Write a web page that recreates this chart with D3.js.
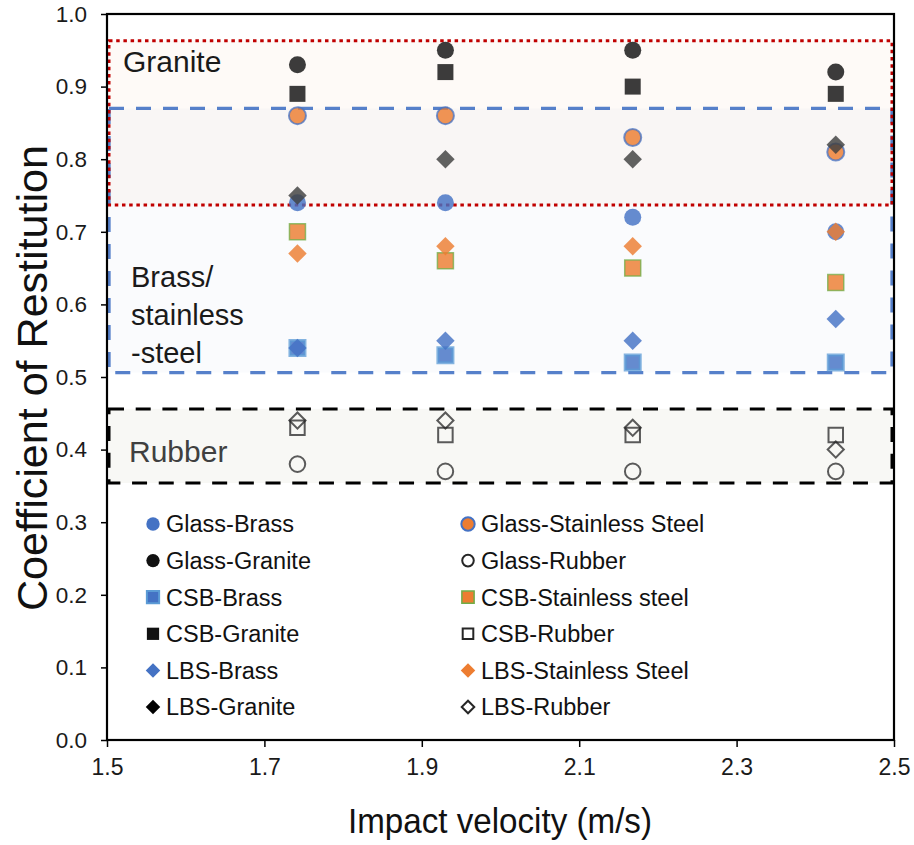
<!DOCTYPE html>
<html>
<head>
<meta charset="utf-8">
<script src="https://cdn.jsdelivr.net/npm/d3@7"></script>
<style>
  html, body { margin: 0; padding: 0; background: #fff; }
  svg { display: block; font-family: "Liberation Sans", Arial, sans-serif; }
</style>
</head>
<body>
<svg id="chart" width="914" height="845"></svg>
<script>
// ---------------- data ----------------
const velocities = [1.742, 1.93, 2.168, 2.426];
const xTicks = [1.5, 1.7, 1.9, 2.1, 2.3, 2.5];
const yTicks = [0.0, 0.1, 0.2, 0.3, 0.4, 0.5, 0.6, 0.7, 0.8, 0.9, 1.0];

const seriesNames = [
  "Glass-Brass", "Glass-Stainless Steel",
  "Glass-Granite", "Glass-Rubber",
  "CSB-Brass", "CSB-Stainless steel",
  "CSB-Granite", "CSB-Rubber",
  "LBS-Brass", "LBS-Stainless Steel",
  "LBS-Granite", "LBS-Rubber"
];
const glassBrass      = [0.74, 0.74, 0.72, 0.70];
const glassStainless  = [0.86, 0.86, 0.83, 0.81];
const glassGranite    = [0.93, 0.95, 0.95, 0.92];
const glassRubber     = [0.38, 0.37, 0.37, 0.37];
const csbBrass        = [0.54, 0.53, 0.52, 0.52];
const csbStainless    = [0.70, 0.66, 0.65, 0.63];
const csbGranite      = [0.89, 0.92, 0.90, 0.89];
const csbRubber       = [0.43, 0.42, 0.42, 0.42];
const lbsBrass        = [0.54, 0.55, 0.55, 0.58];
const lbsStainless    = [0.67, 0.68, 0.68, 0.70];
const lbsGranite      = [0.75, 0.80, 0.80, 0.82];
const lbsRubber       = [0.44, 0.44, 0.43, 0.40];
const seriesValues = [glassBrass, glassStainless, glassGranite, glassRubber,
  csbBrass, csbStainless, csbGranite, csbRubber,
  lbsBrass, lbsStainless, lbsGranite, lbsRubber];

// region bands [label, top, bottom]
const regionNames = ["Granite", "Brass/stainless-steel", "Rubber"];
const regionTop = [0.963, 0.870, 0.456];
const regionBottom = [0.737, 0.506, 0.354];

// ---------------- styles ----------------
const shapes = ["circle","circle","circle","circle","square","square","square","square","diamond","diamond","diamond","diamond"];
const fills = ["#4472c4","#ed7d31","#111111","none","#4472c4","#ed7d31","#111111","none","#4472c4","#ed7d31","#3f3f3f","none"];
const strokes = ["none","#4472c4","none","#262626","#5b9bd5","#70ad47","none","#262626","none","none","none","#262626"];
const strokeW = [0,2,0,2,3,1.5,0,2,0,0,0,2];

const svg = d3.select("#chart");
const x = d3.scaleLinear().domain([1.5, 2.5]).range([107, 894]);
const y = d3.scaleLinear().domain([0, 1]).range([740, 14]);

// region fills
const regionFill = ["rgba(244,170,120,0.06)", "rgba(100,140,210,0.035)", "rgba(150,160,120,0.07)"];
const regionStroke = ["#c00000", "#4472c4", "#000000"];
const regionDash = ["3.5,3.7", "15,12", "15,11.7"];
const gReg = svg.append("g");
regionNames.forEach((n, i) => {
  gReg.append("rect")
    .attr("x", x(1.5) + 2).attr("y", y(regionTop[i]))
    .attr("width", x(2.5) - x(1.5) - 4)
    .attr("height", y(regionBottom[i]) - y(regionTop[i]))
    .attr("fill", regionFill[i]);
});
[1, 2, 0].forEach(i => {
  gReg.append("rect")
    .attr("x", x(1.5) + 2).attr("y", y(regionTop[i]))
    .attr("width", x(2.5) - x(1.5) - 4)
    .attr("height", y(regionBottom[i]) - y(regionTop[i]))
    .attr("fill", "none")
    .attr("stroke", regionStroke[i])
    .attr("stroke-opacity", i === 1 ? 0.9 : 1)
    .attr("stroke-width", i === 1 ? 3.3 : 3)
    .attr("stroke-dasharray", regionDash[i]);
});

// region labels
svg.append("text").attr("x", 123).attr("y", 72).attr("font-size", 30).attr("fill", "#1a1a1a").text("Granite");
const brassLines = ["Brass/", "stainless", "-steel"];
brassLines.forEach((t, i) => {
  svg.append("text").attr("x", 131).attr("y", 287 + i * 38).attr("font-size", 29).attr("fill", "#1a1a1a").text(t);
});
svg.append("text").attr("x", 129).attr("y", 462).attr("font-size", 30).attr("fill", "#404040").text("Rubber");

// axes
const yAxis = d3.axisLeft(y).tickValues(yTicks).tickFormat(d3.format(".1f")).tickSize(6).tickPadding(14);
const gy = svg.append("g").attr("transform", `translate(${x(1.5)},0)`).call(yAxis);
gy.select(".domain").remove();
gy.selectAll("line").attr("stroke", "#000").attr("stroke-width", 1.5);
gy.selectAll("text").attr("font-size", 22.5).attr("fill", "#1a1a1a").attr("font-family", "Liberation Sans, Arial, sans-serif");

const xAxis = d3.axisBottom(x).tickValues(xTicks).tickFormat(d3.format(".1f")).tickSize(7).tickPadding(12);
const gx = svg.append("g").attr("transform", `translate(0,${y(0)})`).call(xAxis);
gx.select(".domain").remove();
gx.selectAll("line").attr("stroke", "#000").attr("stroke-width", 1.5);
gx.selectAll("text").attr("font-size", 23).attr("fill", "#1a1a1a").attr("font-family", "Liberation Sans, Arial, sans-serif");

// frame
svg.append("rect").attr("x", x(1.5)).attr("y", y(1)).attr("width", x(2.5) - x(1.5)).attr("height", y(0) - y(1))
  .attr("fill", "none").attr("stroke", "#000").attr("stroke-width", 2.2);

// symbols
function symPath(shape, size) {
  if (shape === "circle") return d3.symbol().type(d3.symbolCircle).size(size)();
  return d3.symbol().type(d3.symbolSquare).size(size)();
}
const dataSize = {circle: 227, square: 256, diamond: 170};
const legSize = {circle: 140, square: 150, diamond: 105};

const gPts = svg.append("g");
seriesNames.forEach((name, i) => {
  const sh = shapes[i];
  const size = sh === "square" && strokeW[i] === 3 ? 225 : (sh === "square" && fills[i] === "none" ? 210 : (sh === "circle" && fills[i] === "none" ? 190 : (sh === "diamond" && fills[i] === "none" ? 130 : dataSize[sh])));
  gPts.selectAll(null).data(seriesValues[i]).enter().append("path")
    .attr("d", symPath(sh, size))
    .attr("transform", (d, j) => `translate(${x(velocities[j])},${y(d)})` + (sh === "diamond" ? " rotate(45)" : ""))
    .attr("fill", fills[i])
    .attr("fill-opacity", 0.82)
    .attr("stroke", strokes[i])
    .attr("stroke-opacity", 0.75)
    .attr("stroke-width", strokeW[i]);
});

// legend
const gLeg = svg.append("g");
seriesNames.forEach((name, i) => {
  const col = i % 2, row = Math.floor(i / 2);
  const mx = col === 0 ? 153 : 468;
  const my = 524 + row * 36.6;
  const sh = shapes[i];
  gLeg.append("path")
    .attr("d", symPath(sh, fills[i] === "none" ? legSize[sh] * 0.75 : legSize[sh]))
    .attr("transform", `translate(${mx},${my})` + (sh === "diamond" ? " rotate(45)" : ""))
    .attr("fill", fills[i] === "none" ? "#fff" : (i === 10 ? "#000" : fills[i]))
    .attr("stroke", strokes[i])
    .attr("stroke-width", strokeW[i] ? Math.min(strokeW[i], 2) : 0);
  gLeg.append("text").attr("x", mx + 13).attr("y", my).attr("dy", "0.36em")
    .attr("font-size", 23.5).attr("fill", "#111").text(name);
});

// axis titles
svg.append("text").attr("x", 500).attr("y", 833).attr("text-anchor", "middle")
  .attr("font-size", 35).attr("fill", "#111").attr("textLength", 304).attr("lengthAdjust", "spacingAndGlyphs")
  .text("Impact velocity (m/s)");
svg.append("text").attr("transform", "translate(47,378) rotate(-90)").attr("text-anchor", "middle")
  .attr("font-size", 42).attr("fill", "#111").attr("textLength", 466).attr("lengthAdjust", "spacingAndGlyphs")
  .text("Coefficient of Restitution");
</script>
</body>
</html>
